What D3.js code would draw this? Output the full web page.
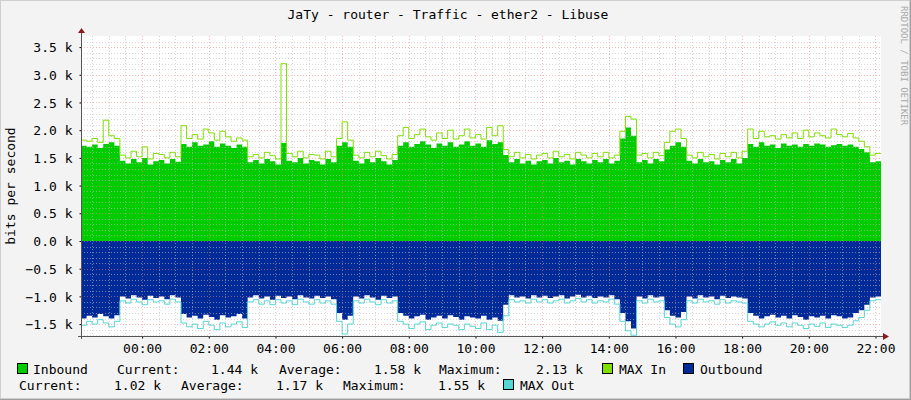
<!DOCTYPE html>
<html><head><meta charset="utf-8">
<script src="https://cdn.jsdelivr.net/npm/d3@7"></script>
<style>html,body{margin:0;padding:0;background:#f3f3f3}svg{display:block}text{font-family:"DejaVu Sans Mono",monospace;font-size:13px;fill:#000}</style>
</head><body><svg id="c" width="911" height="400"></svg>
<script>
const title = "JaTy - router - Traffic - ether2 - Libuse";
const yTicks = [-1.5,-1.0,-0.5,0,0.5,1.0,1.5,2.0,2.5,3.0,3.5];
const xTickLabels = ["00:00","02:00","04:00","06:00","08:00","10:00","12:00","14:00","16:00","18:00","20:00","22:00"];
// minutes from 00:00, 10-minute steps starting 22:10 previous day
const startMin = -110, stepMin = 10;
const inbound = [1.72,1.70,1.74,1.68,1.75,1.78,1.72,
1.45,1.40,1.48,1.42,1.50,1.38,1.44,1.46,1.40,1.48,1.43,
1.75,1.70,1.78,1.72,1.74,1.80,1.70,1.76,1.72,1.68,1.74,1.70,
1.42,1.46,1.40,1.48,1.44,1.38,1.77,1.45,1.42,1.50,1.40,1.46,1.44,1.38,1.48,1.42,
1.72,1.78,1.70,
1.45,1.40,1.48,1.42,1.50,1.44,1.38,1.46,
1.72,1.78,1.70,1.75,1.80,1.74,1.68,1.76,1.72,1.78,1.70,1.74,1.80,1.72,1.76,1.70,1.82,1.75,1.78,
1.55,1.42,1.48,1.40,1.45,1.38,1.44,1.46,1.40,1.50,1.42,1.45,1.38,1.48,1.44,1.40,1.46,1.42,1.48,1.40,1.45,
1.85,2.05,1.90,
1.42,1.46,1.40,1.48,1.44,
1.65,1.72,1.78,1.70,
1.45,1.40,1.48,1.42,1.44,1.38,1.46,1.42,1.48,1.40,1.50,
1.75,1.70,1.78,1.72,1.74,1.68,1.76,1.72,1.74,1.70,1.75,1.72,1.76,1.74,1.70,1.73,1.75,1.72,1.74,1.70,1.66,1.60,
1.42,1.44];
const maxIn = [1.82,1.80,1.85,1.78,2.18,1.90,1.85,
1.55,1.50,1.62,1.52,1.70,1.48,1.58,1.56,1.50,1.60,1.52,
2.08,1.85,1.92,1.84,2.02,1.95,1.82,1.98,1.88,1.80,1.86,1.82,
1.52,1.56,1.50,1.60,1.54,1.48,3.20,1.58,1.52,1.62,1.50,1.56,1.55,1.48,1.62,1.52,
1.85,2.15,1.82,
1.55,1.50,1.60,1.52,1.62,1.54,1.48,1.56,
1.90,2.05,1.85,1.92,2.02,1.88,1.82,1.95,1.85,2.00,1.84,1.90,2.02,1.86,1.92,1.84,2.05,1.90,2.08,
1.65,1.52,1.60,1.50,1.56,1.48,1.55,1.58,1.50,1.62,1.52,1.56,1.48,1.60,1.55,1.50,1.58,1.52,1.60,1.50,1.55,
1.98,2.25,2.20,
1.55,1.58,1.50,1.60,1.54,
1.78,1.98,2.02,1.85,
1.55,1.50,1.60,1.52,1.56,1.48,1.58,1.52,1.60,1.50,1.62,
2.02,1.85,1.98,1.88,1.90,1.84,1.92,1.86,1.95,1.85,2.00,1.88,1.95,1.90,1.86,2.02,1.92,1.88,1.94,1.86,1.80,1.70,
1.55,1.58];
const outbound = [-1.40,-1.35,-1.38,-1.32,-1.36,-1.40,-1.34,
-1.00,-1.04,-0.98,-1.02,-1.06,-0.99,-1.03,-1.00,-1.05,-0.98,-1.02,
-1.32,-1.38,-1.35,-1.40,-1.33,-1.37,-1.42,-1.34,-1.38,-1.36,-1.32,-1.40,
-1.02,-0.98,-1.04,-1.00,-1.06,-0.99,-1.03,-1.00,-1.05,-0.98,-1.02,-1.04,-0.99,-1.03,-1.00,-1.05,
-1.30,-1.42,-1.35,
-1.00,-1.04,-0.98,-1.02,-1.06,-0.99,-1.03,-1.00,
-1.30,-1.35,-1.40,-1.36,-1.33,-1.42,-1.38,-1.35,-1.40,-1.34,-1.37,-1.42,-1.36,-1.38,-1.40,-1.35,-1.42,-1.38,-1.44,
-1.15,-0.98,-1.02,-1.00,-1.04,-0.98,-1.02,-0.99,-1.03,-1.00,-0.98,-1.04,-1.00,-0.97,-1.02,-0.99,-1.03,-1.00,-1.02,-0.98,-1.05,
-1.30,-1.45,-1.58,
-1.00,-1.04,-0.98,-1.02,-1.00,
-1.25,-1.35,-1.38,-1.28,
-1.00,-1.04,-0.98,-1.02,-1.00,-1.05,-0.99,-1.03,-1.00,-1.02,-1.04,
-1.30,-1.35,-1.40,-1.36,-1.33,-1.38,-1.35,-1.40,-1.34,-1.37,-1.42,-1.36,-1.38,-1.35,-1.40,-1.34,-1.36,-1.40,-1.38,-1.30,-1.25,-1.15,
-1.02,-1.00];
const maxOut = [-1.52,-1.45,-1.50,-1.42,-1.48,-1.55,-1.45,
-1.08,-1.12,-1.05,-1.10,-1.15,-1.06,-1.10,-1.08,-1.14,-1.05,-1.10,
-1.48,-1.55,-1.50,-1.58,-1.45,-1.52,-1.60,-1.48,-1.55,-1.50,-1.46,-1.56,
-1.10,-1.06,-1.14,-1.08,-1.15,-1.06,-1.12,-1.08,-1.15,-1.05,-1.10,-1.14,-1.06,-1.12,-1.08,-1.14,
-1.45,-1.68,-1.50,
-1.08,-1.12,-1.05,-1.10,-1.15,-1.06,-1.12,-1.08,
-1.45,-1.50,-1.58,-1.50,-1.46,-1.60,-1.52,-1.48,-1.56,-1.50,-1.52,-1.60,-1.50,-1.54,-1.58,-1.48,-1.60,-1.52,-1.65,
-1.35,-1.06,-1.10,-1.08,-1.12,-1.05,-1.10,-1.06,-1.12,-1.08,-1.05,-1.12,-1.08,-1.04,-1.10,-1.06,-1.12,-1.08,-1.10,-1.05,-1.14,
-1.45,-1.62,-1.70,
-1.08,-1.12,-1.05,-1.10,-1.08,
-1.38,-1.50,-1.55,-1.42,
-1.08,-1.12,-1.05,-1.10,-1.08,-1.14,-1.06,-1.12,-1.08,-1.10,-1.12,
-1.45,-1.50,-1.55,-1.50,-1.46,-1.52,-1.48,-1.55,-1.48,-1.52,-1.58,-1.50,-1.54,-1.48,-1.56,-1.50,-1.52,-1.56,-1.52,-1.44,-1.38,-1.25,
-1.08,-1.06];
const legendRow1 = [["Inbound","1.44 k","1.58 k","2.13 k"]];
const legendRow2 = [["1.02 k","1.17 k","1.55 k"]];

const svg = d3.select("#c");
const L=81,R=881,T=36,B=336;
const x = d3.scaleLinear().domain([startMin, startMin+stepMin*inbound.length]).range([L,R]);
const y = d3.scaleLinear().domain([-1.715,3.70]).range([B,T]);

svg.append("rect").attr("x",0.5).attr("y",0.5).attr("width",909).attr("height",398).attr("fill","#f3f3f3").attr("stroke","#cfcfcf");
svg.append("line").attr("x1",0).attr("x2",911).attr("y1",399.5).attr("y2",399.5).attr("stroke","#9e9e9e");
svg.append("line").attr("x1",910.5).attr("x2",910.5).attr("y1",0).attr("y2",400).attr("stroke","#9e9e9e");
svg.append("rect").attr("x",L).attr("y",T).attr("width",R-L).attr("height",B-T).attr("fill","#fff");

const pts = a => a.map((v,i)=>({t:startMin+i*stepMin,v})).concat([{t:startMin+a.length*stepMin,v:a[a.length-1]}]);
const area = d3.area().x(d=>x(d.t)).y0(y(0)).y1(d=>y(d.v)).curve(d3.curveStepAfter);
const line = d3.line().x(d=>x(d.t)).y(d=>y(d.v)).curve(d3.curveStepAfter);
svg.append("path").attr("d",area(pts(inbound))).attr("fill","#00cc00");
svg.append("path").attr("d",area(pts(outbound))).attr("fill","#002a97");

// grid
const g = svg.append("g");
for(let v=-1.7; v<=3.7; v+=0.1){ const vv=Math.round(v*10)/10; if(Math.abs(vv*2-Math.round(vv*2))<1e-6) continue;
  g.append("line").attr("x1",L).attr("x2",R).attr("y1",Math.round(y(vv))+0.5).attr("y2",Math.round(y(vv))+0.5).attr("stroke","#bbb").attr("stroke-opacity",0.6).attr("stroke-dasharray","1,2");}
for(let m=-90; m<=1320; m+=30){ if(m%120===0) continue;
  g.append("line").attr("x1",Math.round(x(m))+0.5).attr("x2",Math.round(x(m))+0.5).attr("y1",T).attr("y2",B).attr("stroke","#bbb").attr("stroke-opacity",0.6).attr("stroke-dasharray","1,2");}
yTicks.forEach(v=>g.append("line").attr("x1",L).attr("x2",R).attr("y1",Math.round(y(v))+0.5).attr("y2",Math.round(y(v))+0.5).attr("stroke","#f08080").attr("stroke-opacity",0.55).attr("stroke-dasharray","1,2"));
xTickLabels.forEach((s,i)=>g.append("line").attr("x1",Math.round(x(i*120))+0.5).attr("x2",Math.round(x(i*120))+0.5).attr("y1",T).attr("y2",B).attr("stroke","#f08080").attr("stroke-opacity",0.55).attr("stroke-dasharray","1,2"));

svg.append("path").attr("d",line(pts(maxIn))).attr("fill","none").attr("stroke","#7fe000").attr("stroke-width",1);
svg.append("path").attr("d",line(pts(maxOut))).attr("fill","none").attr("stroke","#55d6d3").attr("stroke-width",1);

// axes
const yAxis = d3.axisLeft(y).tickValues(yTicks).tickSize(2).tickFormat(d=>d3.format(".1f")(d)+" k");
const ya = svg.append("g").attr("transform",`translate(${L+0.5},0)`).call(yAxis);
ya.select(".domain").remove();
ya.selectAll("text").attr("x",-9).attr("dy","0.36em").style("font-size","13px").style("font-family","DejaVu Sans Mono");
const xAxis = d3.axisBottom(x).tickValues(xTickLabels.map((s,i)=>i*120)).tickSize(2).tickFormat((d,i)=>xTickLabels[i]);
const xa = svg.append("g").attr("transform",`translate(0,${B+0.5})`).call(xAxis);
xa.select(".domain").remove();
xa.selectAll("text").attr("y",7).attr("dy","0.71em").style("font-size","13px").style("font-family","DejaVu Sans Mono");
svg.append("line").attr("x1",L+0.5).attr("x2",L+0.5).attr("y1",B+3).attr("y2",T-4).attr("stroke","#555");
svg.append("line").attr("x1",L-3).attr("x2",R+3).attr("y1",B+0.5).attr("y2",B+0.5).attr("stroke","#555");
svg.append("path").attr("d",`M${L-3},${T-3} L${L+4},${T-3} L${L+0.5},${T-8} Z`).attr("fill","#8b1a1a");
svg.append("path").attr("d",`M${R+2},${B-3} L${R+2},${B+4} L${R+8},${B+0.5} Z`).attr("fill","#8b1a1a");

svg.append("text").attr("x",448).attr("y",19).attr("text-anchor","middle").text(title);
svg.append("text").attr("transform","translate(15,186) rotate(-90)").attr("text-anchor","middle").text("bits per second");
svg.append("text").attr("transform","translate(901,6) rotate(90)").style("font-size","9px").style("fill","#a8a8a8").text("RRDTOOL / TOBI OETIKER");

function box(xp,yp,c){svg.append("rect").attr("x",xp+0.5).attr("y",yp+0.5).attr("width",10).attr("height",10).attr("fill",c).attr("stroke","#000");}
function t(xp,yp,s,anchor){svg.append("text").attr("x",xp).attr("y",yp).attr("text-anchor",anchor||"start").text(s);}
const r1=374, r2=390;
box(17,363,"#00cc00"); t(33,r1,legendRow1[0][0]); t(117,r1,"Current:"); t(258,r1,legendRow1[0][1],"end");
t(279,r1,"Average:"); t(421,r1,legendRow1[0][2],"end"); t(439,r1,"Maximum:"); t(583,r1,legendRow1[0][3],"end");
box(602,363,"#7fe000"); t(619,r1,"MAX In"); box(683,363,"#002a97"); t(700,r1,"Outbound");
t(19,r2,"Current:"); t(161,r2,legendRow2[0][0],"end"); t(181,r2,"Average:"); t(323,r2,legendRow2[0][1],"end");
t(343,r2,"Maximum:"); t(485,r2,legendRow2[0][2],"end"); box(503,379,"#55d6d3"); t(520,r2,"MAX Out");
</script></body></html>
